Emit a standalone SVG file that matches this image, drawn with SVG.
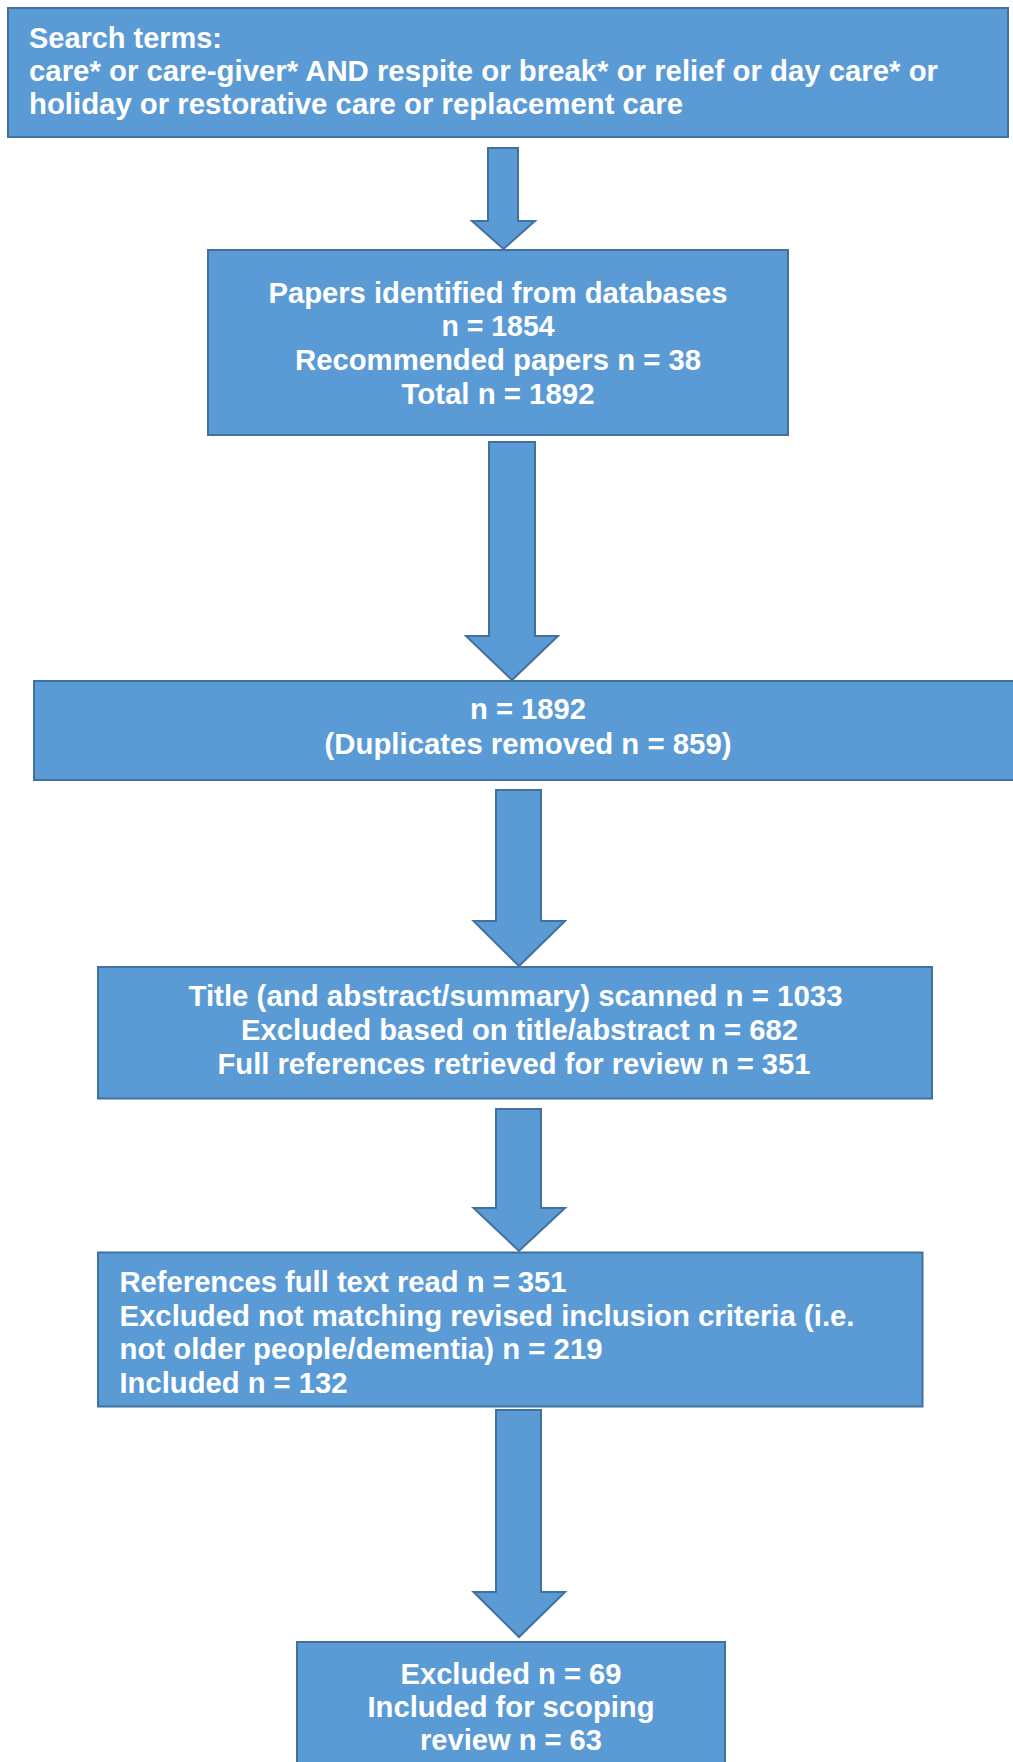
<svg xmlns="http://www.w3.org/2000/svg" width="1013" height="1762" viewBox="0 0 1013 1762">
<style>
.box{fill:#5B9BD5;stroke:#41719C;stroke-width:2}
.arr{fill:#5B9BD5;stroke:#41719C;stroke-width:2;stroke-linejoin:miter}
text{font-family:"Liberation Sans",Arial,sans-serif;font-weight:bold;font-size:29px;fill:#FFFFFF}
.c{text-anchor:middle}
</style>
<rect width="1013" height="1762" fill="#FFFFFF"/>
<g id="connectors">
<polygon class="arr" points="488,148 518,148 518,221 535,221 503.5,249 472,221 488,221"/>
<polygon class="arr" points="489,442 535,442 535,636 558,636 512,680 466,636 489,636"/>
<polygon class="arr" points="496,790 541,790 541,921 565,921 519,966 473.5,921 496,921"/>
<polygon class="arr" points="496,1109 541,1109 541,1208 565,1208 519,1251 473.5,1208 496,1208"/>
<polygon class="arr" points="496,1410 541,1410 541,1592 565,1592 519,1637 473.5,1592 496,1592"/>
</g>
<g id="n1">
<rect class="box" x="8" y="8" width="1000" height="129"/>
<text x="29" y="47.5" textLength="193" lengthAdjust="spacingAndGlyphs">Search terms:</text>
<text x="29" y="81" textLength="909" lengthAdjust="spacingAndGlyphs">care* or care-giver* AND respite or break* or relief or day care* or</text>
<text x="29" y="114" textLength="654" lengthAdjust="spacingAndGlyphs">holiday or restorative care or replacement care</text>
</g>
<g id="n2">
<rect class="box" x="208" y="250" width="580" height="185"/>
<text class="c" x="498" y="303" textLength="459" lengthAdjust="spacingAndGlyphs">Papers identified from databases</text>
<text class="c" x="498" y="336" textLength="113" lengthAdjust="spacingAndGlyphs">n = 1854</text>
<text class="c" x="498" y="370" textLength="406" lengthAdjust="spacingAndGlyphs">Recommended papers n = 38</text>
<text class="c" x="498" y="404" textLength="193" lengthAdjust="spacingAndGlyphs">Total n = 1892</text>
</g>
<g id="n3">
<rect class="box" x="34" y="681" width="988" height="99"/>
<text class="c" x="528" y="719" textLength="116" lengthAdjust="spacingAndGlyphs">n = 1892</text>
<text class="c" x="528" y="754" textLength="407" lengthAdjust="spacingAndGlyphs">(Duplicates removed n = 859)</text>
</g>
<g id="n4">
<rect class="box" x="98" y="967" width="834" height="131.5"/>
<text class="c" x="515.5" y="1006" textLength="654" lengthAdjust="spacingAndGlyphs">Title (and abstract/summary) scanned n = 1033</text>
<text class="c" x="519.5" y="1040" textLength="557" lengthAdjust="spacingAndGlyphs">Excluded based on title/abstract n = 682</text>
<text class="c" x="514" y="1074" textLength="593" lengthAdjust="spacingAndGlyphs">Full references retrieved for review n = 351</text>
</g>
<g id="n5">
<rect class="box" x="98" y="1252.5" width="824.5" height="154"/>
<text x="119.5" y="1292" textLength="447" lengthAdjust="spacingAndGlyphs">References full text read n = 351</text>
<text x="119.5" y="1326" textLength="735" lengthAdjust="spacingAndGlyphs">Excluded not matching revised inclusion criteria (i.e.</text>
<text x="119.5" y="1359" textLength="483" lengthAdjust="spacingAndGlyphs">not older people/dementia) n = 219</text>
<text x="119.5" y="1393" textLength="228" lengthAdjust="spacingAndGlyphs">Included n = 132</text>
</g>
<g id="n6">
<rect class="box" x="297" y="1642" width="428" height="160"/>
<text class="c" x="511" y="1684" textLength="221" lengthAdjust="spacingAndGlyphs">Excluded n = 69</text>
<text class="c" x="511" y="1717" textLength="287" lengthAdjust="spacingAndGlyphs">Included for scoping</text>
<text class="c" x="511" y="1750" textLength="182" lengthAdjust="spacingAndGlyphs">review n = 63</text>
</g>
</svg>
